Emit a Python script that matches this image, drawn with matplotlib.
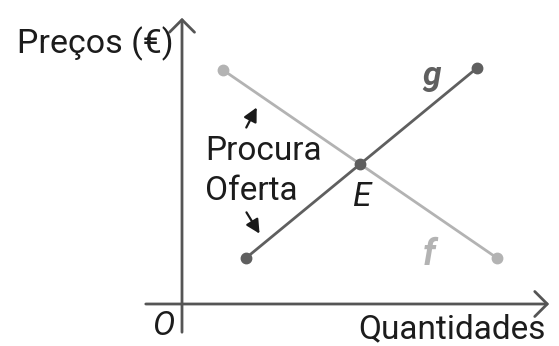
import matplotlib.pyplot as plt

# Data (arbitrary units: quantity, price)
procura_q = [4.1, 31.5]
procura_p = [23.4, 4.6]
oferta_q = [6.4, 29.5]
oferta_p = [4.6, 23.6]

axis_label_y = "Preços (€)"
axis_label_x = "Quantidades"

plt.rcParams['font.family'] = ['Roboto', 'DejaVu Sans']

fig = plt.figure(figsize=(5.59, 3.46), dpi=100)
ax = fig.add_axes([0, 0, 1, 1])
ax.set_xlim(-18.2, 37.7)
ax.set_ylim(-4.2, 30.4)
ax.axis('off')

axis_col = '#555555'
f_col = '#b3b3b3'
g_col = '#5f5f5f'
txt_col = '#1c1c1c'

# Axes with open arrowheads
ax.annotate('', xy=(37.0, 0), xytext=(-3.9, 0),
            arrowprops=dict(arrowstyle='->, head_length=0.45, head_width=0.45',
                            color=axis_col, lw=2, mutation_scale=20))
ax.annotate('', xy=(0, 28.9), xytext=(0, -3.1),
            arrowprops=dict(arrowstyle='->, head_length=0.45, head_width=0.45',
                            color=axis_col, lw=2, mutation_scale=20))

# Demand (f) and supply (g)
ax.plot(procura_q, procura_p, color=f_col, lw=2, marker='o', ms=7.5,
        solid_capstyle='round', zorder=3)
ax.plot(oferta_q, oferta_p, color=g_col, lw=2, marker='o', ms=7.5,
        solid_capstyle='round', zorder=4)

# Equilibrium point
s1 = (procura_p[1] - procura_p[0]) / (procura_q[1] - procura_q[0])
s2 = (oferta_p[1] - oferta_p[0]) / (oferta_q[1] - oferta_q[0])
eq_q = (oferta_p[0] - procura_p[0] + s1 * procura_q[0] - s2 * oferta_q[0]) / (s1 - s2)
eq_p = procura_p[0] + s1 * (eq_q - procura_q[0])
ax.plot([eq_q], [eq_p], 'o', color=g_col, ms=7.5, zorder=5)

# Labels
ax.text(-16.5, 25.1, axis_label_y, fontsize=24.5, color=txt_col, va='baseline')
ax.text(36.4, -3.45, axis_label_x, fontsize=24, color=txt_col, va='baseline', ha='right')
ax.text(-3.0, -3.1, 'O', fontsize=24, style='italic', color=txt_col, va='baseline')
ax.text(2.3, 14.4, 'Procura', fontsize=24, color=txt_col, va='baseline')
ax.text(2.3, 10.4, 'Oferta', fontsize=24, color=txt_col, va='baseline')
ax.text(17.0, 9.8, 'E', fontsize=24, style='italic', color=txt_col, va='baseline')
ax.text(24.0, 21.9, 'g', fontsize=24, style='italic', weight='bold', color=g_col, va='baseline')
ax.text(24.1, 3.9, 'f', fontsize=26, style='italic', weight='bold', color=f_col, va='baseline')

# Pointer arrows
ax.annotate('', xy=(7.6, 19.9), xytext=(6.3, 17.4),
            arrowprops=dict(arrowstyle='-|>, head_length=0.55, head_width=0.28',
                            color='#1a1a1a', lw=1.6, mutation_scale=15))
ax.annotate('', xy=(7.9, 6.8), xytext=(6.3, 9.4),
            arrowprops=dict(arrowstyle='-|>, head_length=0.55, head_width=0.28',
                            color='#1a1a1a', lw=1.6, mutation_scale=15))

fig.savefig('out.png', dpi=100, facecolor='white')
